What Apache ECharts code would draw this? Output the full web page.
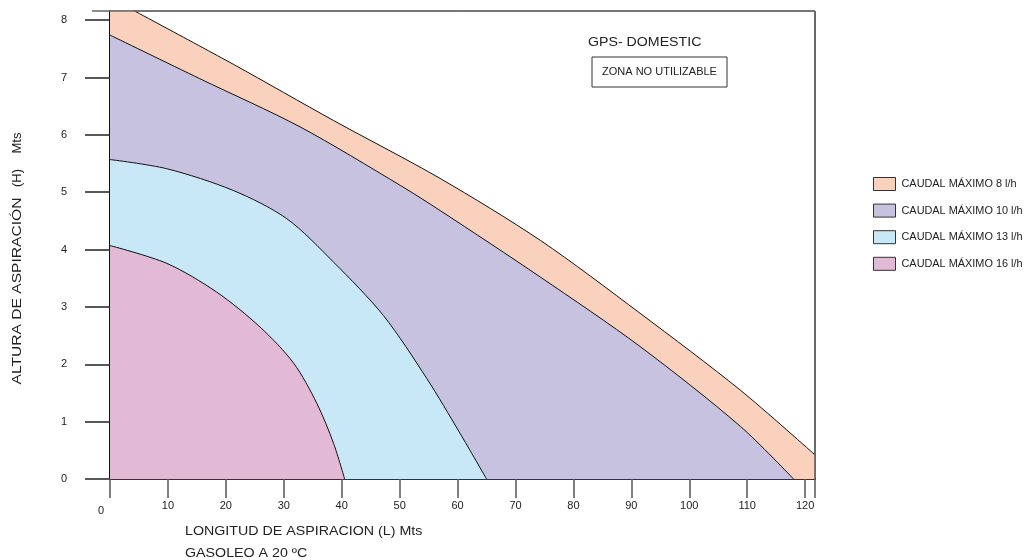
<!DOCTYPE html>
<html>
<head>
<meta charset="utf-8">
<script src="https://cdn.jsdelivr.net/npm/echarts@6/dist/echarts.min.js"></script>
<style>
html,body{margin:0;padding:0;background:#fff;}
#chart{width:1030px;height:560px;}
</style>
</head>
<body>
<div id="chart"></div>
<script>
// ---- data ----
const seriesNames = ['CAUDAL MÁXIMO 8 l/h', 'CAUDAL MÁXIMO 10 l/h', 'CAUDAL MÁXIMO 13 l/h', 'CAUDAL MÁXIMO 16 l/h'];
const seriesColors = ['#F9D1BD', '#C7C2DF', '#C8E7F7', '#E2BAD6'];
// [longitud L (m), altura H (m)]  (8 l/h boundary leaves the top of the chart near L = 4)
const caudal8 = [[0, 8.39], [21.3, 7.23], [38.6, 6.25], [57, 5.24], [74.3, 4.16], [91.5, 2.89], [108.8, 1.55], [121.7, 0.42]];
const caudal10 = [[0, 7.74], [15.5, 6.98], [32.8, 6.14], [50.1, 5.12], [57, 4.68], [74.3, 3.52], [91.5, 2.31], [108.8, 0.92], [118, 0]];
const caudal13 = [[0, 5.57], [9.8, 5.41], [21.3, 5.03], [30.5, 4.54], [38.6, 3.78], [47.2, 2.85], [54.7, 1.75], [60.4, 0.80], [65, 0]];
const caudal16 = [[0, 4.07], [9.8, 3.76], [18.4, 3.26], [25.9, 2.65], [31.7, 2.02], [35.7, 1.32], [38.6, 0.62], [40.5, 0]];
const seriesData = [caudal8, caudal10, caudal13, caudal16];
const xMin = 0, xMax = 121.7, xInterval = 10;
const yMin = 0, yMax = 8.16, yInterval = 1;
const yTitle = ['ALTURA DE ASPIRACIÓN', '(H)', 'Mts'];
const xTitle = ['LONGITUD DE ASPIRACION (L) Mts', 'GASOLEO A 20 ºC'];
const chartTitle = 'GPS- DOMESTIC';
const zoneLabel = 'ZONA NO UTILIZABLE';

const FONT = '"Liberation Sans", Arial, sans-serif';
const chart = echarts.init(document.getElementById('chart'));

const series = seriesData.map((d, i) => ({
  name: seriesNames[i],
  type: 'line',
  data: d,
  smooth: 0.3,
  clip: true,
  showSymbol: false,
  symbol: 'none',
  lineStyle: { color: '#111', width: 1 },
  itemStyle: { color: seriesColors[i] },
  areaStyle: { color: seriesColors[i], opacity: 1 },
  z: 2 + i
}));

chart.setOption({
  animation: false,
  backgroundColor: '#fff',
  grid: { left: 110, right: 215, top: 11, bottom: 81, show: true, borderColor: '#555', borderWidth: 1 },
  legend: {
    orient: 'vertical', left: 873, top: 177, padding: 0,
    icon: 'rect', itemWidth: 22, itemHeight: 13, itemGap: 12.6,
    data: seriesNames.map((n, i) => ({ name: n, itemStyle: { color: seriesColors[i], borderColor: '#333', borderWidth: 1 } })),
    textStyle: { fontFamily: FONT, fontSize: 10.9, color: '#222', padding: [0, 0, 0, 1] },
    selectedMode: false
  },
  xAxis: {
    type: 'value', min: xMin, max: xMax, interval: xInterval,
    axisLine: { show: true, onZero: false, lineStyle: { color: '#333', width: 2 } },
    axisTick: { show: true, length: 19, lineStyle: { color: '#555', width: 1.5 } },
    axisLabel: {
      margin: 21, fontFamily: FONT, fontSize: 11, color: '#222',
      formatter: v => v === 0 ? '{z|0}' : String(v),
      rich: { z: { fontFamily: FONT, fontSize: 11, color: '#222', padding: [5, 18, 0, 0] } }
    },
    splitLine: { show: false }
  },
  yAxis: {
    type: 'value', min: yMin, max: yMax, interval: yInterval,
    axisLine: { show: true, lineStyle: { color: '#111', width: 2 } },
    axisTick: { show: true, length: 25, lineStyle: { color: '#222', width: 1.5 } },
    axisLabel: { margin: 43, fontFamily: FONT, fontSize: 11, color: '#222' },
    splitLine: { show: false }
  },
  graphic: [
    { type: 'line', shape: { x1: 92, y1: 11, x2: 815, y2: 11 }, style: { stroke: '#666', lineWidth: 1.5 }, z: 10 },
    { type: 'line', shape: { x1: 815, y1: 11, x2: 815, y2: 498 }, style: { stroke: '#555', lineWidth: 1.5 }, z: 10 },
    { type: 'text', x: 17, y: 291, rotation: Math.PI / 2, scaleX: 1.2, style: { text: yTitle[0], font: '13px ' + FONT, fill: '#222', align: 'center', verticalAlign: 'middle' } },
    { type: 'text', x: 17, y: 178, rotation: Math.PI / 2, style: { text: yTitle[1], font: '13px ' + FONT, fill: '#222', align: 'center', verticalAlign: 'middle' } },
    { type: 'text', x: 17, y: 143, rotation: Math.PI / 2, style: { text: yTitle[2], font: '13px ' + FONT, fill: '#222', align: 'center', verticalAlign: 'middle' } },
    { type: 'text', x: 185, y: 531, scaleX: 1.055, style: { text: xTitle[0], font: '13.5px ' + FONT, fill: '#222', align: 'left', verticalAlign: 'middle' } },
    { type: 'text', x: 185, y: 553, scaleX: 1.055, style: { text: xTitle[1], font: '13.5px ' + FONT, fill: '#222', align: 'left', verticalAlign: 'middle' } },
    { type: 'text', x: 588, y: 42, scaleX: 1.09, style: { text: chartTitle, font: '13px ' + FONT, fill: '#222', align: 'left', verticalAlign: 'middle' } },
    { type: 'rect', shape: { x: 592, y: 57, width: 135, height: 30 }, style: { fill: '#fff', stroke: '#333', lineWidth: 1 } },
    { type: 'text', x: 659.5, y: 72, style: { text: zoneLabel, font: '11px ' + FONT, fill: '#222', align: 'center', verticalAlign: 'middle' } }
  ],
  series: series
});
</script>
</body>
</html>
